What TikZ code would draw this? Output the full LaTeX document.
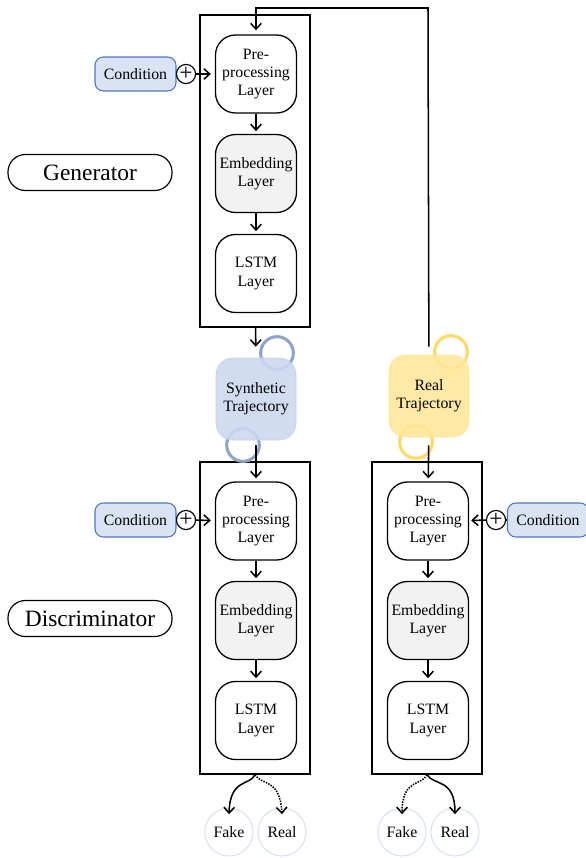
\documentclass[tikz,border=0pt]{standalone}
\usepackage{fontspec}
\setmainfont{Liberation Serif}
\usetikzlibrary{arrows.meta}

\definecolor{condfill}{HTML}{DAE3F3}
\definecolor{condline}{HTML}{4F76BE}
\definecolor{synfill}{HTML}{CCD8EF}
\definecolor{synline}{HTML}{8EA3C8}
\definecolor{realfill}{HTML}{FFE699}
\definecolor{realline}{HTML}{FFD966}
\definecolor{embfill}{HTML}{F2F2F2}
\definecolor{outcome}{HTML}{D5DDF0}

\tikzset{
    txt/.style={font=\fontsize{13.5}{15.5}\selectfont},
    layer/.style={txt, draw, line width=1.1pt, rounded corners=0.6cm, minimum width=2.43cm,
        minimum height=2.34cm, align=center, inner sep=0pt},
    emb/.style={layer, fill=embfill},
    frame/.style={draw, line width=1.2pt, minimum width=3.3cm, minimum height=9.36cm},
    cond/.style={txt, draw=condline, fill=condfill, line width=0.9pt, rounded corners=0.25cm,
        minimum width=2.43cm, minimum height=1.02cm, inner sep=0pt},
    plus/.style={draw, circle, line width=1pt, minimum size=0.52cm, inner sep=0pt,
        font=\fontsize{20}{20}\selectfont},
    role/.style={draw, line width=1pt, rounded corners=0.52cm, minimum width=4.92cm,
        minimum height=1.08cm, font=\fontsize{20}{24}\selectfont},
    traj/.style={txt, rounded corners=0.5cm, minimum width=2.4cm, minimum height=2.46cm,
        align=center, inner sep=0pt, line width=0.5pt},
    ring/.style={circle, line width=2.6pt, minimum size=0.98cm, inner sep=0pt},
    outcome/.style={txt, circle, draw=outcome, line width=0.8pt, minimum size=1.44cm, inner sep=0pt},
    flow/.style={->, line width=1.3pt},
    >={Straight Barb[length=5pt, width=9pt]}
}

\begin{document}
\begin{tikzpicture}[x=0.03cm, y=-0.03cm]
        \useasboundingbox (0,0) rectangle (586,858);

        % layer stacks
        \foreach \col/\cx/\cy in {gen/256/74, dl/256/521, dr/428/521} {
            \node[layer] (\col-pre) at (\cx,\cy) {Pre-\\processing\\Layer};
            \node[emb] (\col-emb) at (\cx,\cy+99.5) {Embedding\\Layer};
            \node[layer] (\col-lstm) at (\cx,\cy+199.5) {LSTM\\Layer};
            \node[frame] (\col-frame) at (\cx-1,\cy+97) {};
            \draw[flow, shorten >=0.08cm] (\col-pre) -- (\col-emb);
            \draw[flow, shorten >=0.08cm] (\col-emb) -- (\col-lstm);
        }

        \node[role] (gen-role) at (90,172.5) {Generator};
        \node[role] (dis-role) at (90,618.5) {Discriminator};

        % conditions
        \node[cond] (gen-cond) at (135.5,74) {Condition};
        \node[plus] (gen-plus) at (186,74) {\raisebox{0.5pt}{+}};
        \node[cond] (dl-cond) at (135.5,520) {Condition};
        \node[plus] (dl-plus) at (186,520) {\raisebox{0.5pt}{+}};
        \node[cond] (dr-cond) at (548,520) {Condition};
        \node[plus] (dr-plus) at (496,520) {\raisebox{0.5pt}{+}};
        \draw[line width=1pt] (gen-cond) -- (gen-plus);
        \draw[line width=1pt] (dl-cond) -- (dl-plus);
        \draw[line width=1pt] (dr-cond) -- (dr-plus);
        \draw[flow, shorten >=0.12cm] (gen-plus) -- (gen-pre);
        \draw[flow, shorten >=0.12cm] (dl-plus) -- (dl-pre);
        \draw[flow, shorten >=0.06cm] (dr-plus) -- (dr-pre);

        % trajectories
        \node[ring, draw=synline] (syn-up) at (277,353) {};
        \node[ring, draw=synline] (syn-down) at (243,445) {};
        \node[traj, draw=synfill!85!synline, fill=synfill, fill opacity=0.9, text opacity=1] (syn) at (256,399) {Synthetic\\Trajectory};
        \node[ring, draw=realline] (real-up) at (451,352) {};
        \node[ring, draw=realline] (real-down) at (416,442) {};
        \node[traj, draw=realfill!85!realline, fill=realfill, fill opacity=0.88, text opacity=1] (real) at (429,396) {Real\\Trajectory};

        \draw[flow, shorten >=0.33cm] (gen-frame) -- (syn);
        \draw[flow, shorten <=0.15cm, shorten >=0.09cm] (syn) -- (dl-pre);
        \draw[flow, shorten <=0.24cm, shorten >=0.09cm] (real) -- (dr-pre);
        \coordinate (loop) at (428,8);
        \draw[flow, shorten <=0.24cm, shorten >=0.12cm] (real) -- (loop) -| (gen-pre);

        % outputs
        \node[outcome] (dl-fake) at (229,832) {Fake};
        \node[outcome] (dl-real) at (282,832) {Real};
        \node[outcome] (dr-fake) at (402,832) {Fake};
        \node[outcome] (dr-real) at (455,832) {Real};
        \draw[flow] (dl-frame.south) .. controls (250,786) and (230,778) .. ([yshift=-0.2cm]dl-fake.north);
        \draw[flow, densely dotted] (dl-frame.south) .. controls (262,786) and (280,778) .. ([yshift=-0.2cm]dl-real.north);
        \draw[flow, densely dotted] (dr-frame.south) .. controls (422,786) and (402,778) .. ([yshift=-0.2cm]dr-fake.north);
        \draw[flow] (dr-frame.south) .. controls (434,786) and (455,778) .. ([yshift=-0.2cm]dr-real.north);
    \end{tikzpicture}
\end{document}
